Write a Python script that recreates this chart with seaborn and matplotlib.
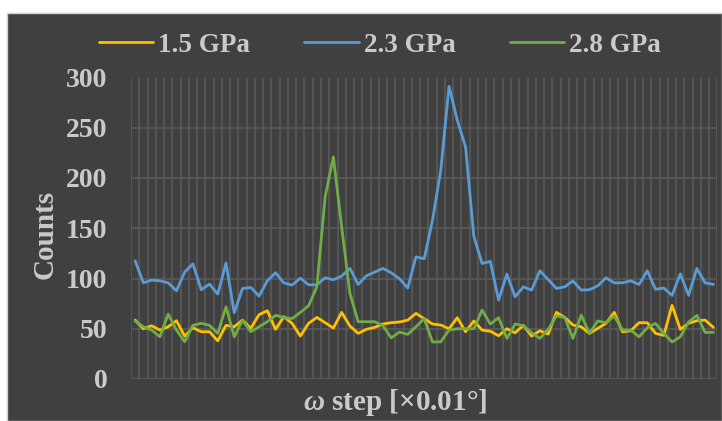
import numpy as np
import pandas as pd
import matplotlib
matplotlib.use("Agg")
import matplotlib.pyplot as plt
import seaborn as sns
from matplotlib.patches import Rectangle

steps = list(range(71))
series_names = ["1.5 GPa", "2.3 GPa", "2.8 GPa"]

counts_15 = [58.6, 50, 53, 48.7, 52, 58, 42.7, 51, 47, 47,
             38, 53.4, 52, 58.6, 50.4, 64, 67.9, 49.4, 62, 55.4,
             42.7, 55.4, 61.3, 56, 50.7, 66.3, 52.7, 45.4, 49.4, 51.4,
             54.7, 56, 56.7, 58.6, 65.3, 60, 54.7, 53.7, 50, 61,
             47, 57.7, 48.7, 47.5, 43, 50, 46, 53.4, 42.7, 48,
             44.7, 66.3, 61.3, 53.7, 52, 45.4, 50.4, 55.4, 66.3, 47,
             48, 56, 56, 45.4, 43.4, 73.3, 49.4, 55.4, 58, 58.6,
             51.4]
counts_23 = [117.6, 95.7, 98.4, 97.7, 95.7, 87.8, 106.4, 114.6, 88.8, 94.4,
             84.5, 115.3, 65.9, 90.1, 91.1, 82.5, 97.7, 105.7, 95.7, 93.4,
             100.4, 93.7, 93.7, 100.7, 98.7, 102.4, 110, 94.1, 102.7, 106.4,
             110, 105.7, 99.7, 90.5, 121.6, 119.6, 158, 207.8, 291.2, 257.5,
             231, 142.1, 115, 117, 78.5, 104.4, 81.8, 91.7, 88.5, 107.7,
             99, 90.1, 91.7, 97.7, 88.5, 88.8, 92.7, 100.7, 95.7, 95.7,
             97.7, 94.1, 107.7, 89.2, 90.5, 83.2, 104.7, 83.2, 110, 95.7,
             94.1]
counts_28 = [57.7, 52, 48.7, 42, 64.6, 48.7, 37, 53.4, 55.4, 53.4,
             45.4, 71.9, 42, 58.6, 47, 52, 57, 63.3, 61.3, 60,
             66.3, 72.9, 91.7, 181.2, 221, 151.4, 85.2, 57, 57, 57,
             53, 41, 46.7, 44.4, 52, 60, 36.8, 37, 48.7, 50,
             50, 50, 68.6, 54.7, 61, 40.4, 54.7, 53, 46, 40.4,
             49.4, 62.6, 61.3, 40.4, 63.6, 45.4, 57.7, 56, 62.6, 48.7,
             48.7, 42, 51, 55.4, 45.4, 36.8, 42, 56.7, 63.3, 46.4,
             46.4]
y_ticks = [0, 50, 100, 150, 200, 250, 300]

df = pd.DataFrame({
    "step": steps * 3,
    "counts": counts_15 + counts_23 + counts_28,
    "series": [series_names[0]] * 71 + [series_names[1]] * 71 + [series_names[2]] * 71,
})

sns.set_theme(style="dark")
plt.rcParams["font.family"] = ["Liberation Serif", "DejaVu Serif"]
plt.rcParams["font.weight"] = "bold"
plt.rcParams["mathtext.fontset"] = "custom"
plt.rcParams["mathtext.it"] = "Liberation Serif:italic:bold"
plt.rcParams["mathtext.rm"] = "Liberation Serif:bold"

BG = "#404040"
TXT = "#CACACA"
GRID = "#5A5A5A"

fig = plt.figure(figsize=(7.22, 4.21), dpi=100, facecolor="white")
fig.patches.append(Rectangle((7 / 722, 0), 715 / 722, 408 / 421, transform=fig.transFigure,
                             facecolor=BG, edgecolor="#D0D0D0", linewidth=1, zorder=-10))
ax = fig.add_axes([131 / 722, 1 - 379 / 421, 586.5 / 722, 301.5 / 421])
ax.set_zorder(5)
ax.set_facecolor(BG)

palette = {"1.5 GPa": "#FFC000", "2.3 GPa": "#5B9BD5", "2.8 GPa": "#70AD47"}
sns.lineplot(data=df, x="step", y="counts", hue="series", palette=palette,
             linewidth=2.0, ax=ax, legend=True)

ax.set_xlim(-0.5, 70.5)
ax.set_ylim(0, 300)
ax.set_yticks(y_ticks)
ax.set_yticklabels([str(v) for v in y_ticks], color=TXT, fontsize=20, fontweight="bold")
ax.set_xticks(np.arange(-0.5, 71, 1))
ax.set_xticklabels([])
ax.tick_params(axis="both", length=0)
ax.tick_params(axis="y", pad=17)
ax.grid(True, axis="both", color=GRID, linewidth=1.2)
ax.set_axisbelow(True)
for s in ax.spines.values():
    s.set_visible(False)
ax.set_xlabel("")
ax.set_ylabel("")

fig.text(45 / 722, 1 - 234 / 421, "Counts", rotation=90, ha="center", va="center",
         color=TXT, fontsize=21, fontweight="bold")
fig.text(395 / 722, 1 - 402 / 421, r"$\omega$ step [×0.01°]", ha="center", va="center",
         color=TXT, fontsize=21, fontweight="bold")

handles, labels = ax.get_legend_handles_labels()
if ax.get_legend() is not None:
    ax.get_legend().remove()
leg = fig.legend(handles, labels, loc="center", bbox_to_anchor=(380 / 722, 1 - 45 / 421),
                 ncol=3, frameon=False, fontsize=19.5, handlelength=2.0,
                 handletextpad=0.2, columnspacing=2.0, labelcolor=TXT)
for t in leg.get_texts():
    t.set_fontweight("bold")

fig.savefig("out.png", dpi=100, facecolor="white")
